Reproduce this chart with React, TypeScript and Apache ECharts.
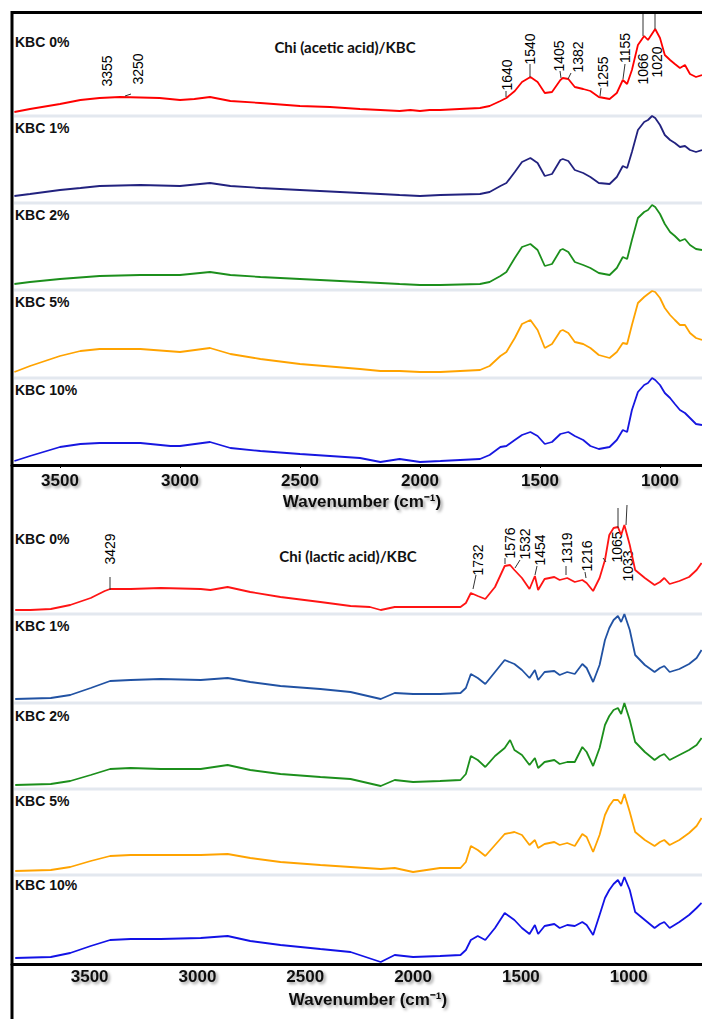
import React, { useEffect, useRef } from "react";
import * as echarts from "echarts";

const TICKS = [3500, 3000, 2500, 2000, 1500, 1000];
const KBC_LABELS = ["KBC 0%", "KBC 1%", "KBC 2%", "KBC 5%", "KBC 10%"];
const TOP_TITLE = "Chi (acetic acid)/KBC";
const BOTTOM_TITLE = "Chi (lactic acid)/KBC";
const AXIS_NAME = "Wavenumber (cm\u207B\u00B9)";

// Chi (acetic acid)/KBC spectra: [wavenumber, intensity a.u.]
const acetic0 = [[3690,3],[3625,6],[3500,11],[3415,15],[3335,17],[3250,18],[3165,17.5],[3085,17],[3000,15],[2940,16],[2875,18],[2790,14],[2665,12],[2500,9],[2375,8],[2250,6],[2165,5],[2085,4],[2040,5],[2000,4],[1960,5],[1915,5],[1835,6],[1750,7],[1710,9],[1665,14],[1640,17],[1605,24],[1575,33],[1540,38],[1510,33],[1480,22],[1450,23],[1415,35],[1405,37],[1382,36],[1355,28],[1320,26],[1290,24],[1255,18],[1210,16],[1180,22],[1155,35],[1137,31],[1117,45],[1092,70],[1066,79],[1050,75],[1020,86],[1000,77],[980,60],[958,55],[938,51],[917,47],[896,50],[875,41],[850,38],[825,40]];
const acetic1 = [[3690,6],[3625,8],[3500,12],[3415,14],[3335,16],[3165,17],[3000,16],[2875,19],[2790,16],[2665,14],[2500,12],[2250,9],[2165,8],[2085,7],[2000,6],[1915,7],[1750,8],[1710,10],[1665,16],[1640,19],[1605,30],[1575,40],[1540,44],[1510,39],[1480,26],[1450,28],[1415,42],[1405,43],[1382,41],[1355,32],[1320,29],[1290,25],[1255,19],[1210,18],[1180,25],[1155,36],[1137,34],[1117,50],[1092,72],[1066,80],[1050,82],[1033,86],[1020,84],[1000,77],[980,67],[958,62],[938,59],[917,55],[896,56],[875,52],[850,50],[825,52]];
const acetic2 = [[3690,5],[3625,7],[3500,10],[3335,13],[3165,14],[3000,14],[2875,17],[2790,14],[2665,12],[2500,10],[2250,7],[2165,6],[2085,5],[2000,4],[1915,4],[1750,5],[1710,7],[1665,13],[1640,17],[1605,31],[1575,42],[1540,45],[1510,39],[1480,23],[1450,25],[1415,39],[1405,40],[1382,37],[1355,27],[1320,24],[1290,21],[1255,16],[1210,14],[1180,21],[1155,32],[1137,30],[1117,49],[1092,71],[1066,77],[1050,79],[1033,84],[1020,82],[1000,75],[980,65],[958,57],[938,53],[917,48],[896,50],[875,44],[850,40],[825,39]];
const acetic5 = [[3690,5],[3625,11],[3500,21],[3415,26],[3335,28],[3165,28],[3000,25],[2875,29],[2790,23],[2665,18],[2500,13],[2250,8],[2165,6],[2085,6],[2000,5],[1915,5],[1750,7],[1710,11],[1665,21],[1640,25],[1605,39],[1575,53],[1540,57],[1510,47],[1480,29],[1450,33],[1415,46],[1405,47],[1382,44],[1355,35],[1320,33],[1290,29],[1255,22],[1210,19],[1180,25],[1155,34],[1137,33],[1117,52],[1092,74],[1066,80],[1050,83],[1033,86],[1020,85],[1000,79],[980,69],[958,62],[938,57],[917,52],[896,52],[875,44],[850,39],[825,37]];
const acetic10 = [[3690,4],[3625,9],[3500,18],[3415,21],[3335,22],[3165,22],[3040,19],[3000,19],[2875,23],[2790,17],[2665,14],[2500,11],[2250,7],[2165,3],[2085,6],[2000,3],[1915,4],[1750,6],[1710,10],[1665,18],[1640,19],[1605,25],[1575,30],[1540,33],[1510,29],[1480,21],[1450,23],[1415,31],[1382,33],[1355,29],[1320,25],[1290,19],[1255,16],[1210,18],[1180,25],[1155,35],[1137,33],[1117,55],[1092,73],[1066,80],[1050,82],[1033,87],[1020,85],[1000,80],[980,72],[958,67],[938,61],[917,55],[896,52],[875,47],[850,41],[825,40]];

// Chi (lactic acid)/KBC spectra: [wavenumber, intensity a.u.]
const lactic0 = [[3845,3],[3775,3],[3680,4],[3590,8],[3495,15],[3430,22],[3405,24],[3310,24],[3170,25],[2985,24],[2940,23],[2860,26],[2755,21],[2615,16],[2430,11],[2290,7],[2200,6],[2150,3],[2085,6],[2000,6],[1875,6],[1780,6],[1755,10],[1732,20],[1700,17],[1665,14],[1620,26],[1575,47],[1550,48],[1530,43],[1495,35],[1460,24],[1435,37],[1420,23],[1390,34],[1345,36],[1320,33],[1285,35],[1250,31],[1215,33],[1195,30],[1165,22],[1135,35],[1110,53],[1090,78],[1070,85],[1050,86],[1035,78],[1020,88],[995,68],[970,43],[925,35],[880,28],[855,31],[835,35],[810,29],[765,32],[720,36],[685,43],[662,50]];
const lactic1 = [[3845,3],[3680,4],[3590,7],[3495,14],[3405,21],[3310,22],[3170,23],[2985,22],[2860,24],[2755,20],[2615,16],[2430,13],[2290,10],[2150,3],[2085,9],[2000,8],[1875,8],[1780,9],[1755,14],[1732,28],[1700,24],[1665,18],[1620,30],[1575,42],[1530,38],[1495,32],[1460,24],[1435,32],[1420,22],[1390,30],[1345,31],[1320,27],[1285,30],[1250,28],[1215,38],[1195,34],[1165,20],[1135,37],[1110,62],[1090,74],[1070,82],[1050,86],[1035,80],[1020,88],[995,72],[970,47],[925,37],[880,30],[855,34],[835,36],[810,30],[765,33],[720,38],[685,44],[662,52]];
const lactic2 = [[3845,3],[3680,4],[3590,7],[3495,13],[3405,19],[3310,20],[3170,19],[2985,19],[2860,23],[2755,18],[2615,14],[2430,11],[2290,9],[2150,2],[2085,8],[2000,6],[1875,7],[1780,8],[1755,14],[1732,32],[1700,28],[1665,21],[1620,32],[1575,40],[1550,48],[1530,38],[1495,33],[1460,23],[1435,30],[1420,20],[1390,26],[1345,28],[1320,24],[1285,26],[1250,26],[1215,41],[1195,36],[1165,22],[1135,40],[1110,63],[1090,72],[1070,78],[1050,80],[1035,74],[1020,85],[995,68],[970,46],[925,36],[880,28],[855,32],[835,34],[810,28],[765,33],[720,38],[685,43],[662,50]];
const lactic5 = [[3845,3],[3680,4],[3590,7],[3495,13],[3405,18],[3310,19],[3170,19],[2985,19],[2860,20],[2755,16],[2615,12],[2430,9],[2290,7],[2150,5],[2085,6],[2000,2],[1875,6],[1780,6],[1755,12],[1732,28],[1700,24],[1665,18],[1620,29],[1575,40],[1530,42],[1495,39],[1460,29],[1435,34],[1420,26],[1390,30],[1345,32],[1320,29],[1285,31],[1250,28],[1215,40],[1195,37],[1165,22],[1135,39],[1110,59],[1090,68],[1070,74],[1050,74],[1035,70],[1020,80],[995,62],[970,42],[925,34],[880,28],[855,32],[835,34],[810,29],[765,34],[720,41],[685,48],[662,56]];
const lactic10 = [[3845,6],[3680,7],[3590,11],[3495,18],[3405,24],[3310,25],[3170,25],[2985,26],[2860,28],[2755,23],[2615,19],[2430,15],[2290,12],[2150,2],[2085,9],[2000,7],[1875,8],[1780,9],[1755,14],[1732,24],[1700,28],[1665,24],[1620,36],[1575,51],[1530,44],[1495,36],[1460,30],[1435,39],[1420,30],[1390,38],[1345,40],[1320,36],[1285,39],[1250,38],[1215,42],[1195,39],[1165,29],[1135,49],[1110,66],[1090,74],[1070,80],[1050,84],[1035,78],[1020,87],[995,74],[970,52],[925,44],[880,36],[855,40],[835,42],[810,36],[765,42],[720,49],[685,56],[662,61]];

const TOP_SERIES = [acetic0, acetic1, acetic2, acetic5, acetic10];
const BOTTOM_SERIES = [lactic0, lactic1, lactic2, lactic5, lactic10];
const TOP_COLORS = ["#FF0000", "#22227F", "#1C8F1C", "#FFA300", "#1717E0"];
const BOTTOM_COLORS = ["#FF1414", "#2152A3", "#1C8F1C", "#FFA300", "#1212E6"];

const TOP_PEAKS = ["3355", "3250", "1640", "1540", "1405", "1382", "1255", "1155", "1066", "1020"];
const BOTTOM_PEAKS = ["3429", "1732", "1576", "1532", "1454", "1319", "1216", "1065", "1033"];

// layout
const TOP_STRIPS = [[14, 101], [115, 87], [202, 87], [289, 88], [377, 88]];
const BOTTOM_STRIPS = [[505, 108], [613, 89], [702, 86], [788, 86], [874, 90]];
const TOP_LABEL_Y = [42, 128, 215, 302, 390];
const BOTTOM_LABEL_Y = [539, 626, 716, 801, 885];
const TOP_PEAK_POS = [[107, 71], [138, 69], [507, 75], [530, 49], [559, 56], [578, 57], [603, 72], [625, 48], [643, 69], [657, 62]];
const BOTTOM_PEAK_POS = [[110, 549], [478, 560], [510, 543], [525, 544], [540, 550], [567, 548], [587, 556], [617, 547], [628, 566]];
const TOP_LEADERS = [[125, 96, 131, 94], [506, 91, 506, 97], [530, 64, 530, 77], [560, 71, 561, 78], [571, 73, 568, 79], [601, 88, 600, 96], [625, 64, 623, 79], [643, 14, 643, 36], [655, 14, 655, 29]];
const BOTTOM_LEADERS = [[110, 577, 110, 590], [476, 575, 473, 589], [505, 558, 505, 564], [520, 560, 515, 568], [537, 566, 535, 575], [566, 566, 566, 575], [585, 572, 586, 578], [603, 558, 606, 562], [618, 508, 618, 528], [627, 505, 626, 525]];

const SHADOW = { shadowColor: "rgba(0,0,0,0.35)", shadowBlur: 3, shadowOffsetX: 2, shadowOffsetY: 2 };

export default function App() {
  const ref = useRef<HTMLDivElement>(null);
  useEffect(() => {
    if (!ref.current) return;
    const chart = echarts.init(ref.current, null, { renderer: "svg" });
    const grids: any[] = [];
    const xAxes: any[] = [];
    const yAxes: any[] = [];
    const series: any[] = [];

    const addPanel = (strips: number[][], data: number[][][], colors: string[], min: number, max: number, ticksShown: boolean, nameGap: number, namePad: number, labelMargin: number) => {
      strips.forEach((s, i) => {
        const idx = grids.length;
        grids.push({ left: 12, width: 690, top: s[0], height: s[1] });
        const last = i === strips.length - 1;
        xAxes.push({
          type: "value", gridIndex: idx, inverse: true, min, max, show: last,
          splitLine: { show: false },
          axisLine: { show: last, onZero: false, lineStyle: { color: "#000", width: 3 } },
          axisTick: { show: last && ticksShown, length: 3, inside: false, customValues: TICKS, lineStyle: { color: "#000", width: 1 } },
          axisLabel: {
            show: last, customValues: TICKS, margin: labelMargin, color: "#111",
            formatter: (v: number) => String(v),
            fontFamily: "'Liberation Sans', Arial, sans-serif", fontWeight: "bold", fontSize: 17,
            textShadowColor: "rgba(0,0,0,0.4)", textShadowBlur: 3, textShadowOffsetX: 2, textShadowOffsetY: 2,
          },
          name: last ? AXIS_NAME : "", nameLocation: "middle", nameGap,
          nameTextStyle: {
            color: "#111", fontFamily: "'Liberation Sans', Arial, sans-serif", fontWeight: "bold", fontSize: 17,
            padding: [0, 0, 0, namePad],
            textShadowColor: "rgba(0,0,0,0.4)", textShadowBlur: 3, textShadowOffsetX: 2, textShadowOffsetY: 2,
          },
        });
        yAxes.push({ type: "value", gridIndex: idx, min: 0, max: s[1], show: false, splitLine: { show: false } });
        series.push({
          type: "line", xAxisIndex: idx, yAxisIndex: idx, data: data[i], symbol: "none", showSymbol: false,
          lineStyle: { color: colors[i], width: 1.8 }, smooth: false,
        });
      });
    };
    addPanel(TOP_STRIPS, TOP_SERIES, TOP_COLORS, 825, 3700, true, 28, 10, 7);
    addPanel(BOTTOM_STRIPS, BOTTOM_SERIES, BOTTOM_COLORS, 660, 3860, false, 27, 22, 4);

    const graphic: any[] = [];
    // frame
    graphic.push({ type: "line", shape: { x1: 12, y1: 12.5, x2: 702, y2: 12.5 }, style: { stroke: "#000", lineWidth: 3 } });
    graphic.push({ type: "line", shape: { x1: 12, y1: 11, x2: 12, y2: 1019 }, style: { stroke: "#000", lineWidth: 3 } });
    // separators
    [...TOP_STRIPS.slice(1), ...BOTTOM_STRIPS.slice(1)].forEach((s) => {
      graphic.push({ type: "line", shape: { x1: 14, y1: s[0] + 1, x2: 702, y2: s[0] + 1 }, style: { stroke: "#E3E8EF", lineWidth: 3 } });
    });
    const labelFont = "bold 14px 'Liberation Sans', Arial, sans-serif";
    KBC_LABELS.forEach((t, i) => {
      graphic.push({ type: "text", x: 15, y: TOP_LABEL_Y[i], style: { text: t, font: labelFont, fill: "#111", verticalAlign: "middle", ...SHADOW } });
      graphic.push({ type: "text", x: 15, y: BOTTOM_LABEL_Y[i], style: { text: t, font: labelFont, fill: "#111", verticalAlign: "middle", ...SHADOW } });
    });
    const titleFont = "bold 15px Lato, 'Open Sans', sans-serif";
    graphic.push({ type: "text", x: 345, y: 47, style: { text: TOP_TITLE, font: titleFont, fill: "#111", align: "center", verticalAlign: "middle", ...SHADOW } });
    graphic.push({ type: "text", x: 348, y: 556, style: { text: BOTTOM_TITLE, font: titleFont, fill: "#111", align: "center", verticalAlign: "middle", ...SHADOW } });
    const peakFont = "14px 'Liberation Sans', Arial, sans-serif";
    TOP_PEAKS.forEach((t, i) => {
      graphic.push({ type: "text", x: TOP_PEAK_POS[i][0], y: TOP_PEAK_POS[i][1], rotation: Math.PI / 2, style: { text: t, font: peakFont, fill: "#000", align: "center", verticalAlign: "middle" } });
    });
    BOTTOM_PEAKS.forEach((t, i) => {
      graphic.push({ type: "text", x: BOTTOM_PEAK_POS[i][0], y: BOTTOM_PEAK_POS[i][1], rotation: Math.PI / 2, style: { text: t, font: peakFont, fill: "#000", align: "center", verticalAlign: "middle" } });
    });
    [...TOP_LEADERS, ...BOTTOM_LEADERS].forEach((l) => {
      graphic.push({ type: "line", shape: { x1: l[0], y1: l[1], x2: l[2], y2: l[3] }, style: { stroke: "#333", lineWidth: 1 }, z: 10 });
    });

    chart.setOption({
      animation: false,
      backgroundColor: "#fff",
      grid: grids,
      xAxis: xAxes,
      yAxis: yAxes,
      series,
      graphic,
    });
    return () => chart.dispose();
  }, []);
  return <div ref={ref} style={{ position: "fixed", left: 0, top: 0, width: 702, height: 1019, background: "#fff" }} />;
}
